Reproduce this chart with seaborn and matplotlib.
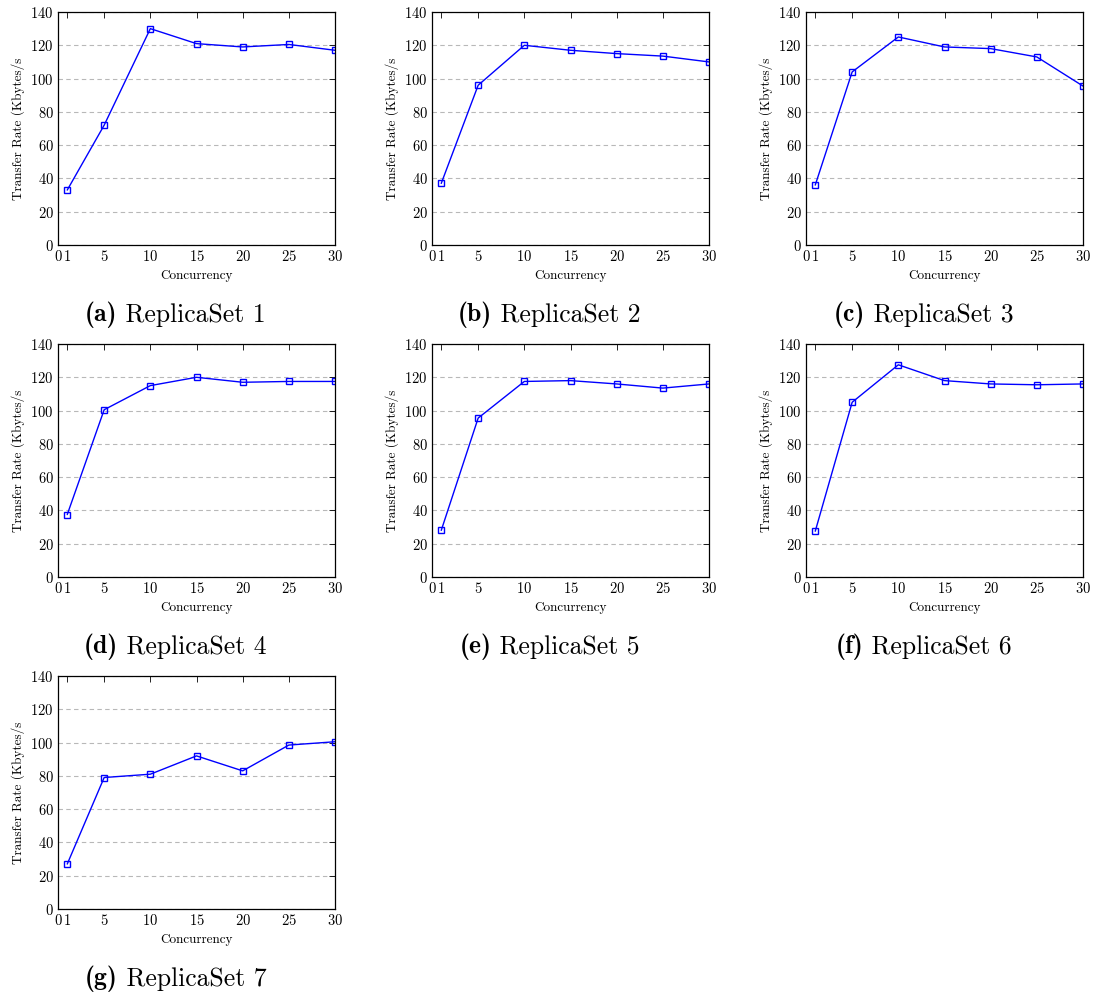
# transfer rate vs concurrency, one panel per replica set

import matplotlib
matplotlib.use('Agg')
import matplotlib.pyplot as plt
import seaborn as sns
import pandas as pd

concurrency = [1, 5, 10, 15, 20, 25, 30]

rs1 = [33, 72, 130, 121, 119, 120.5, 117]
rs2 = [37, 96, 120, 117, 115, 113.5, 110]
rs3 = [36, 104, 125, 119, 118, 113, 95.5]
rs4 = [37.5, 100.5, 115, 120, 117, 117.5, 117.5]
rs5 = [28, 95.5, 117.5, 118, 116, 113.5, 116]
rs6 = [27.5, 105, 127.5, 118, 116, 115.5, 116]
rs7 = [27, 79, 81, 92, 83, 98.5, 100.5]

series = [rs1, rs2, rs3, rs4, rs5, rs6, rs7]
letters = ['a', 'b', 'c', 'd', 'e', 'f', 'g']
xticks = [0, 1, 5, 10, 15, 20, 25, 30]
yticks = [0, 20, 40, 60, 80, 100, 120, 140]

sns.set_theme(style='white')
plt.rcParams['font.family'] = ['cmr10', 'DejaVu Serif']
plt.rcParams['mathtext.fontset'] = 'cm'
plt.rcParams['axes.formatter.use_mathtext'] = True
plt.rcParams['text.color'] = 'black'
plt.rcParams['axes.labelcolor'] = 'black'
plt.rcParams['xtick.color'] = 'black'
plt.rcParams['ytick.color'] = 'black'

fig = plt.figure(figsize=(10.96, 9.99), dpi=100)
renderer = fig.canvas.get_renderer()

col_x = [58 / 1096, 432 / 1096, 806 / 1096]
row_top = [12, 344, 676]
w = 277 / 1096
h = 233 / 999

for i, vals in enumerate(series):
    r, c = divmod(i, 3)
    left = col_x[c]
    bottom = 1 - (row_top[r] + 233) / 999
    ax = fig.add_axes([left, bottom, w, h])
    df = pd.DataFrame({'Concurrency': concurrency, 'rate': vals})
    sns.lineplot(data=df, x='Concurrency', y='rate', ax=ax, color='blue', lw=1,
                 marker='s', ms=4.5, mfc='none', mec='blue', mew=1)
    ax.set_xlim(0, 30)
    ax.set_ylim(0, 140)
    ax.set_xticks(xticks)
    ax.set_yticks(yticks)
    ax.yaxis.grid(True, ls=(0, (4, 3)), color='#b8b8b8', lw=0.8)
    ax.set_axisbelow(True)
    ax.tick_params(direction='in', top=True, right=True, length=4, width=0.6,
                   labelsize=10.5, pad=3)
    for s in ax.spines.values():
        s.set_color('black')
        s.set_linewidth(0.9)
    ax.set_xlabel('Concurrency', fontsize=9.5, labelpad=4)
    ax.set_ylabel('Transfer Rate (Kbytes/s', fontsize=9.5, labelpad=4)

    # caption: bold tag + regular name, centred as one line
    cx = (left + w / 2) * 1096 - 21
    cy = 1 - (row_top[r] + 303) / 999
    t1 = fig.text(0, cy, '(%s)' % letters[i], family='cmb10', fontsize=18.5,
                  va='center', ha='left')
    t2 = fig.text(0, cy, ' ReplicaSet %d' % (i + 1), fontsize=18.5,
                  va='center', ha='left')
    w1 = t1.get_window_extent(renderer).width
    w2 = t2.get_window_extent(renderer).width
    x0 = cx - (w1 + w2) / 2
    t1.set_x(x0 / 1096)
    t2.set_x((x0 + w1) / 1096)

fig.savefig('out.png', dpi=100)
